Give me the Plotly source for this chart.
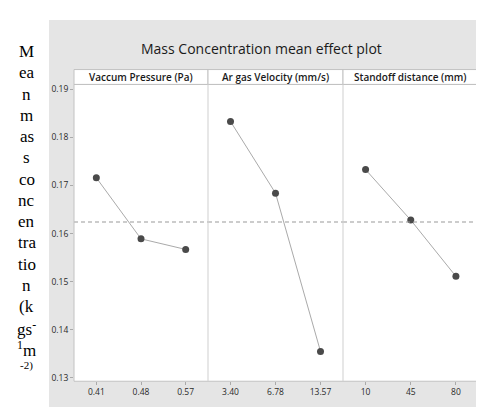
import numpy as np
import plotly.graph_objects as go
from plotly.subplots import make_subplots

title = "Mass Concentration mean effect plot"
factors = ["Vaccum Pressure (Pa)", "Ar gas Velocity (mm/s)", "Standoff distance (mm)"]
levels_vp = ["0.41", "0.48", "0.57"]
levels_ar = ["3.40", "6.78", "13.57"]
levels_sd = ["10", "45", "80"]
means_vp = [0.1716, 0.1589, 0.1567]
means_ar = [0.1833, 0.1684, 0.1355]
means_sd = [0.1733, 0.1628, 0.1511]
y_ticks = [0.13, 0.14, 0.15, 0.16, 0.17, 0.18, 0.19]
y_title_lines = ["M", "ea", "n", "m", "as", "s", "co", "nc", "en", "tra", "tio", "n", "(k",
                 "gs<sup>-</sup>", "<sup>1</sup>m"]
y_title_tail = "-2)"

levels = [levels_vp, levels_ar, levels_sd]
means = [means_vp, means_ar, means_sd]
grand_mean = float(np.mean(means_vp + means_ar + means_sd))

W, H = 484, 407
px = lambda v: v / W
py = lambda v: 1 - v / H

edges = [66, 200, 335, 470.5]
top, bottom = 76, 375
border = "#c2c2c2"

fig = make_subplots(rows=1, cols=3, shared_yaxes=True, horizontal_spacing=0)

# grey background panel and white plotting area (drawn under the data)
fig.add_shape(type="rect", xref="paper", yref="paper", x0=px(41), x1=1.0, y0=0, y1=py(11),
              fillcolor="#e5e5e5", line=dict(width=0), layer="below")
fig.add_shape(type="rect", xref="paper", yref="paper", x0=px(edges[0]), x1=px(edges[3]),
              y0=py(bottom), y1=py(top), fillcolor="white", line=dict(width=0), layer="below")

for i in range(3):
    fig.add_trace(go.Scatter(
        x=list(range(len(levels[i]))), y=means[i], mode="lines+markers",
        line=dict(color="#aaaaaa", width=1),
        marker=dict(color="#4a4a4a", size=7),
        showlegend=False, hoverinfo="skip"), row=1, col=i + 1)
    xa = "xaxis" if i == 0 else f"xaxis{i+1}"
    ya = "yaxis" if i == 0 else f"yaxis{i+1}"
    fig.layout[xa].update(
        domain=[px(edges[i]), px(edges[i + 1])], range=[-0.5, 2.5],
        tickvals=list(range(len(levels[i]))), ticktext=levels[i],
        ticks="outside", ticklen=3, tickcolor="#aaaaaa",
        showgrid=False, zeroline=False, showline=False,
        tickfont=dict(family="Open Sans", size=8.5, color="#2a2a2a"))
    fig.layout[ya].update(
        domain=[py(bottom), py(top)], range=[0.1293, 0.191],
        showgrid=False, zeroline=False, showline=False)
    # strip header
    fig.add_shape(type="rect", xref="paper", yref="paper",
                  x0=px(edges[i]), x1=px(edges[i + 1]), y0=py(76), y1=py(61),
                  fillcolor="white", line=dict(color=border, width=1))
    fig.add_annotation(x=px((edges[i] + edges[i + 1]) / 2), y=py(68.5), xref="paper", yref="paper",
                       text=factors[i], showarrow=False, xanchor="center", yanchor="middle",
                       font=dict(family="Open Sans", size=10, color="#1a1a1a", weight=600))
    # grand mean reference line
    fig.add_shape(type="line", xref=f"x{'' if i == 0 else i+1} domain", yref=f"y{'' if i == 0 else i+1}",
                  x0=0, x1=1, y0=grand_mean, y1=grand_mean,
                  line=dict(color="#999999", width=1, dash="4px,3px"))

# outer border and panel dividers
fig.add_shape(type="rect", xref="paper", yref="paper", x0=px(edges[0]), x1=px(edges[3]),
              y0=py(bottom), y1=py(top), line=dict(color=border, width=1))
for e in edges[1:3]:
    fig.add_shape(type="line", xref="paper", yref="paper", x0=px(e), x1=px(e),
                  y0=py(bottom), y1=py(top), line=dict(color="#cfcfcf", width=1))

fig.layout.yaxis.update(tickvals=y_ticks, ticktext=[f"{v:.2f}" for v in y_ticks],
                        ticks="outside", ticklen=3, tickcolor="#aaaaaa",
                        tickfont=dict(family="Open Sans", size=8.5, color="#2a2a2a"))
for k in ["yaxis2", "yaxis3"]:
    fig.layout[k].update(showticklabels=False, ticks="")

fig.add_annotation(x=px(253), y=py(40), xref="paper", yref="paper", text=title, showarrow=False,
                   xanchor="center", yanchor="middle",
                   font=dict(family="Open Sans", size=14, color="#1a1a1a"))

# stacked y-axis title (one short line each, as in the reference)
for j, t in enumerate(y_title_lines):
    fig.add_annotation(x=px(18.5), y=py(43 + 21.4 * j), xref="paper", yref="paper",
                       text=t, showarrow=False, xanchor="center", yanchor="middle",
                       font=dict(family="Liberation Serif", size=17, color="black"))
fig.add_annotation(x=px(18.5), y=py(359), xref="paper", yref="paper",
                   text=y_title_tail, showarrow=False, xanchor="center", yanchor="middle",
                   font=dict(family="Liberation Serif", size=11, color="black"))

fig.update_layout(width=W, height=H, margin=dict(l=0, r=0, t=0, b=0),
                  paper_bgcolor="white", plot_bgcolor="rgba(0,0,0,0)")

fig.write_html("out.html")
